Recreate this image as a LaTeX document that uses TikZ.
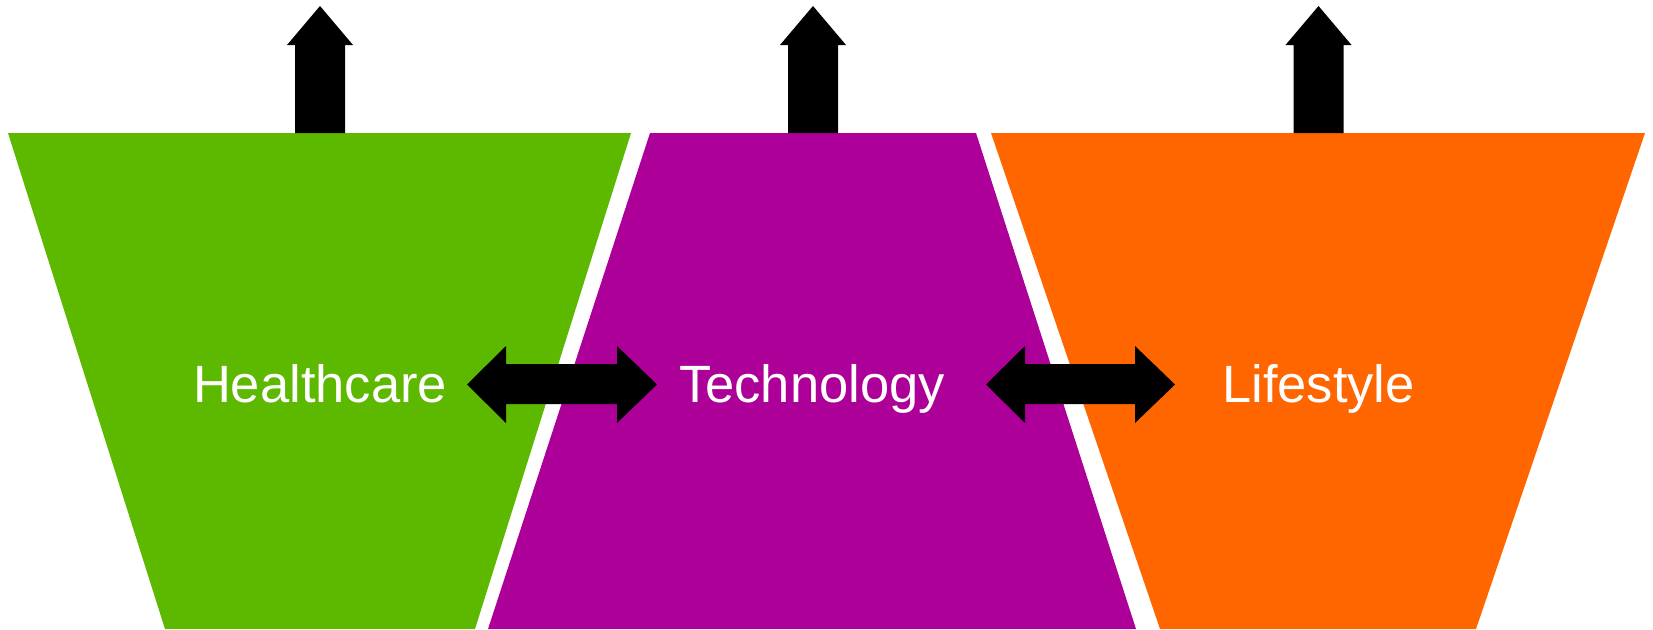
\documentclass[tikz,border=0pt]{standalone}
\usepackage{fontspec}
\setmainfont{Liberation Sans}
\definecolor{cgreen}{RGB}{93,184,0}
\definecolor{cpurple}{RGB}{173,0,153}
\definecolor{corange}{RGB}{255,102,0}
\tikzset{
  trap/.style={draw=none},
  arrowshape/.style={fill=black, draw=none},
  label/.style={text=white, font=\fontsize{52.5}{60}\selectfont, anchor=base, inner sep=0pt}
}
\newcommand{\uparr}[1]{%
  \fill[arrowshape] (#1,6) -- (#1+33,45) -- (#1+25,45) -- (#1+25,133) -- (#1-25,133) -- (#1-25,45) -- (#1-33,45) -- cycle;}
\newcommand{\dblarr}[2]{%
  \fill[arrowshape] (#1,384.5) -- (#1+39,346) -- (#1+39,364) -- (#2-40,364) -- (#2-40,346) -- (#2,384.5) -- (#2-40,423) -- (#2-40,404) -- (#1+39,404) -- (#1+39,423) -- cycle;}
\begin{document}
\begin{tikzpicture}[x=1pt,y=-1pt]
\useasboundingbox (0,0) rectangle (1653,629);
\fill[cgreen,trap] (8,133) -- (631,133) -- (475,629) -- (165,629) -- cycle;
\fill[cpurple,trap] (650,133) -- (976,133) -- (1136,629) -- (488,629) -- cycle;
\fill[corange,trap] (991,133) -- (1645,133) -- (1476,629) -- (1160,629) -- cycle;
\uparr{320}
\uparr{813}
\uparr{1318.5}
\dblarr{467}{657}
\dblarr{986}{1175}
\node[label] (h) at (320,402) {Healthcare};
\node[label] (t) at (812,402) {Technology};
\node[label] (l) at (1318.5,402) {Lifestyle};
\end{tikzpicture}
\end{document}
